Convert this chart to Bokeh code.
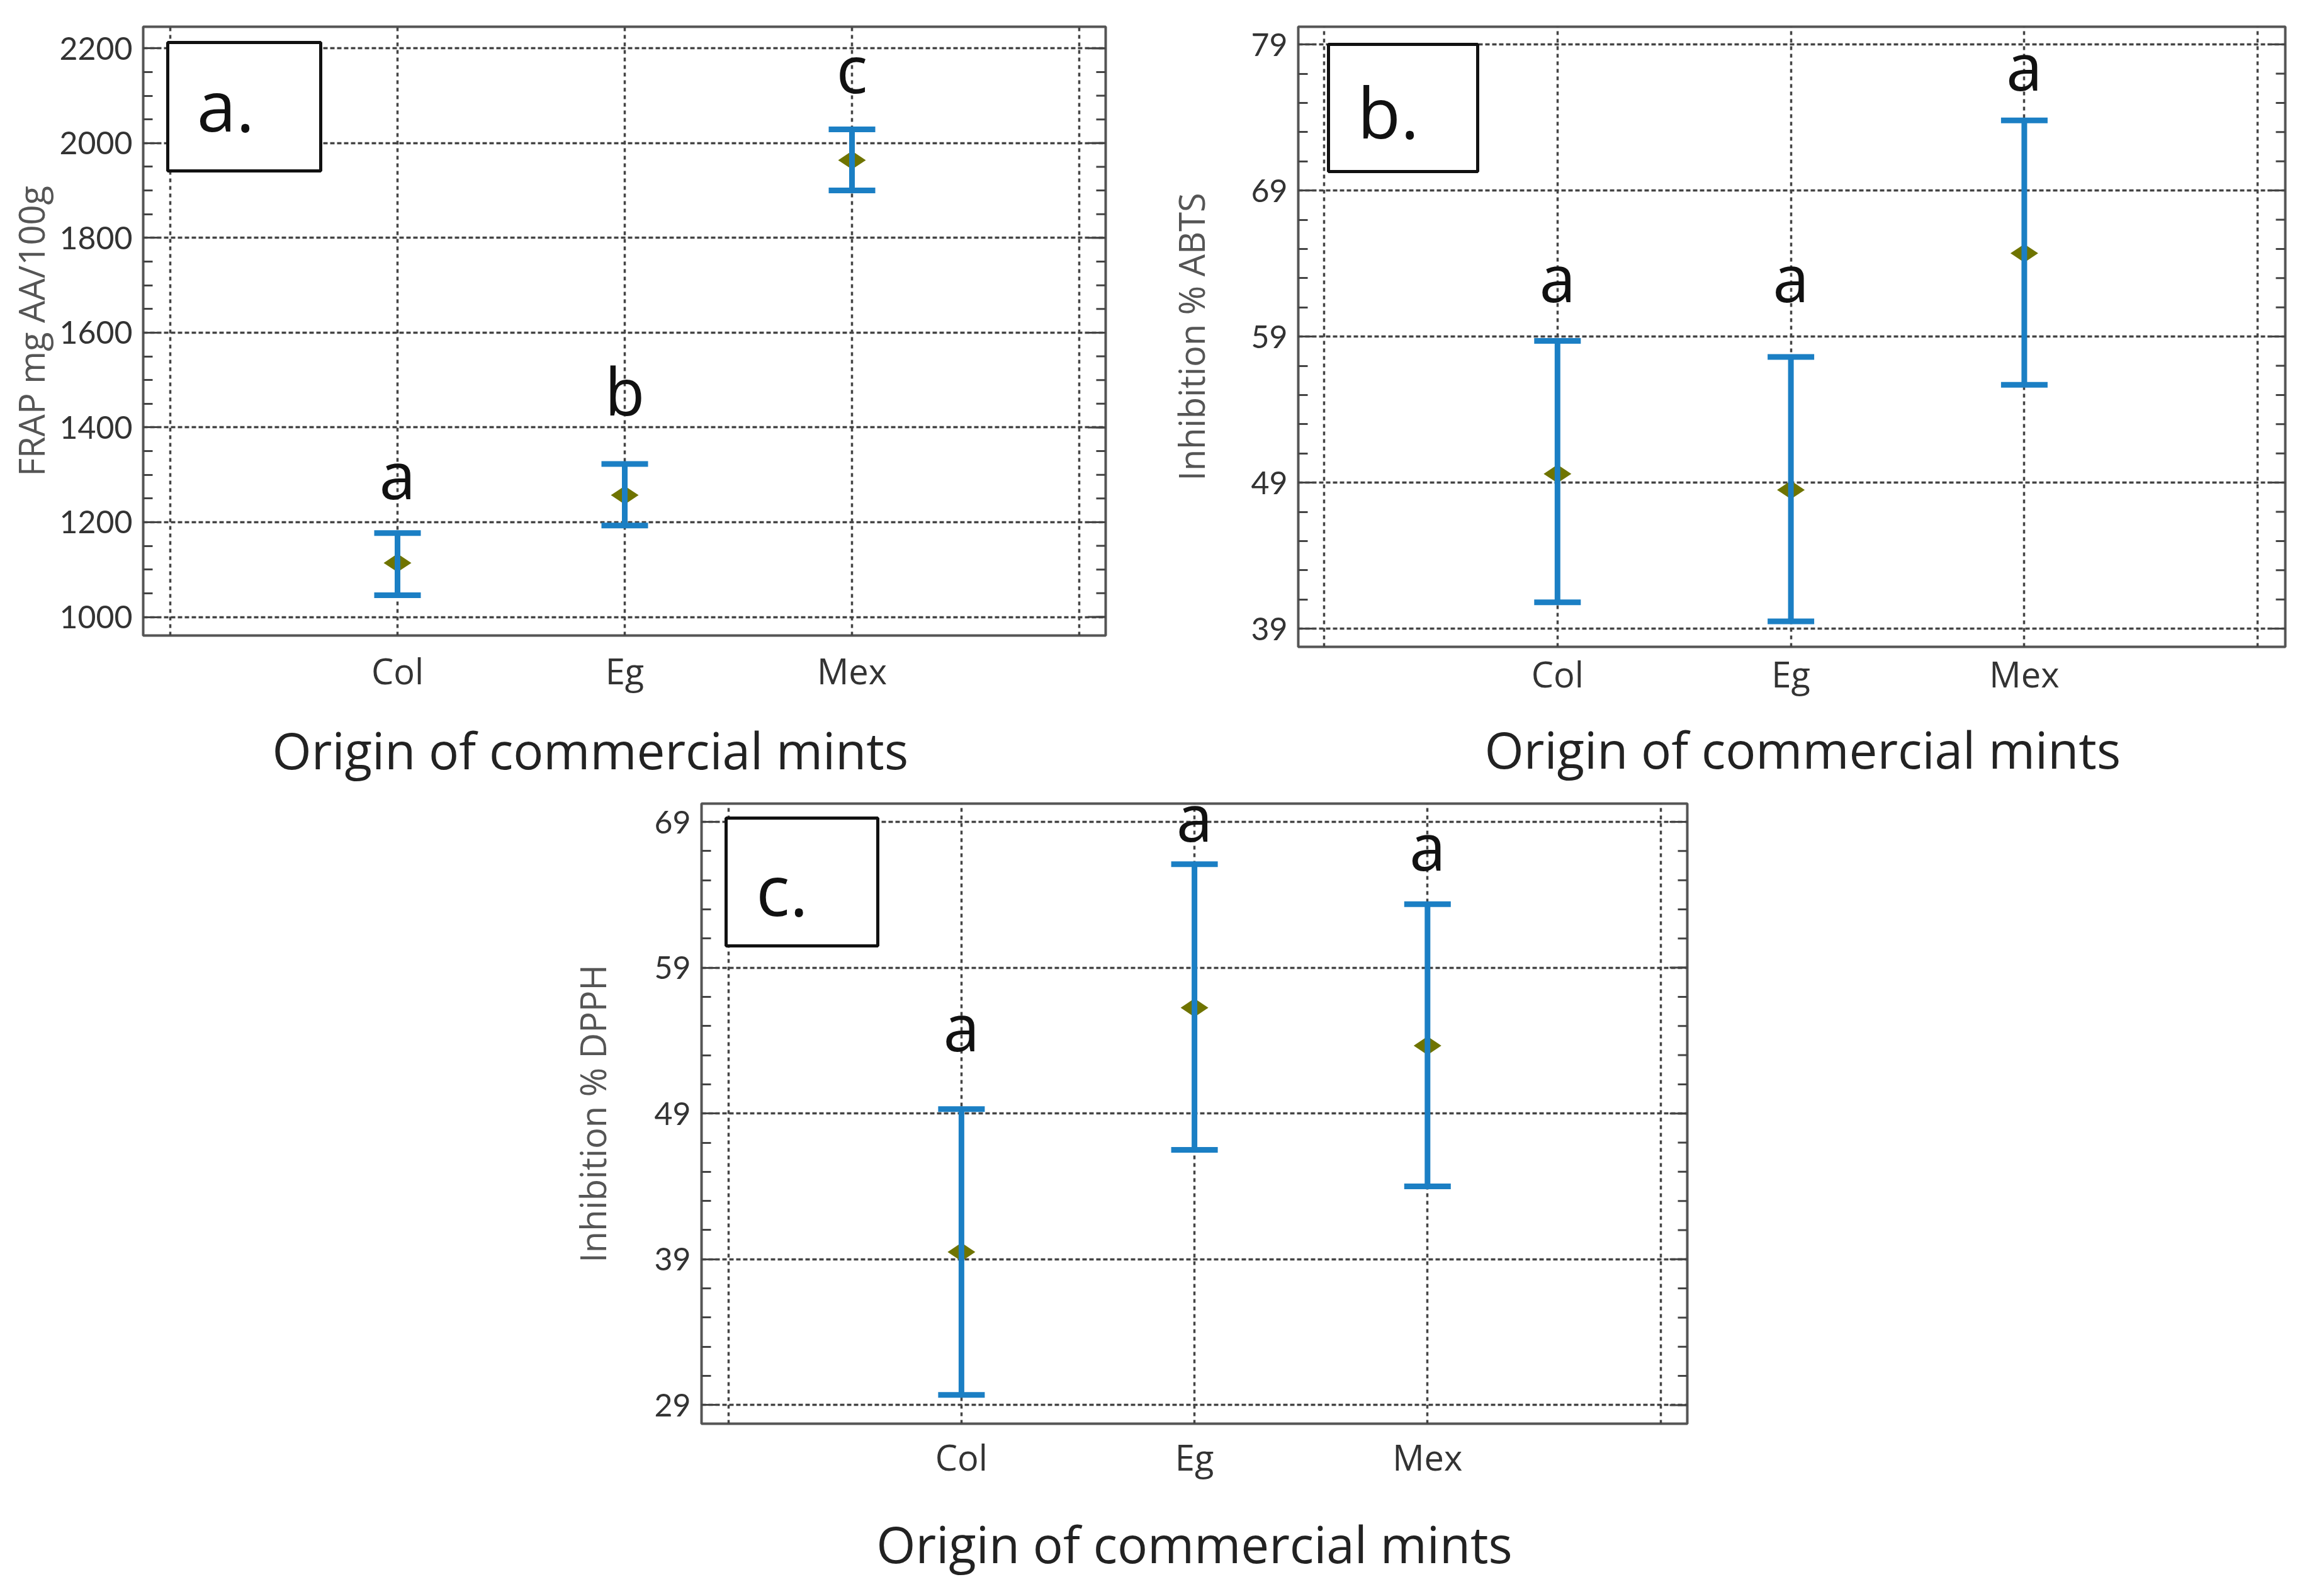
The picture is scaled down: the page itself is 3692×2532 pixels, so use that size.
import math
from bokeh.plotting import figure
from bokeh.models import (Range1d, FixedTicker, Label, BoxAnnotation, Title,
                          Whisker, TeeHead, ColumnDataSource, Spacer)
from bokeh.layouts import row, column
from bokeh.core.properties import value
from bokeh.embed import file_html
from bokeh.resources import INLINE

# ---------------- data ----------------
categories = ["Col", "Eg", "Mex"]
cat_pos = [1, 2, 3]

frap_mean = [1114, 1257, 1964]
frap_lower = [1046, 1193, 1900]
frap_upper = [1177, 1323, 2029]
frap_letters = ["a", "b", "c"]
frap_letter_y = [1302, 1479, 2159]
frap_ticks = [1000, 1200, 1400, 1600, 1800, 2000, 2200]
frap_minor = list(range(950, 2300, 50))

abts_mean = [49.6, 48.5, 64.7]
abts_lower = [40.8, 39.5, 55.7]
abts_upper = [58.7, 57.6, 73.8]
abts_letters = ["a", "a", "a"]
abts_letter_y = [63.1, 63.1, 77.6]
abts_ticks = [39, 49, 59, 69, 79]
abts_minor = list(range(37, 83, 2))

dpph_mean = [39.5, 56.25, 53.65]
dpph_lower = [29.7, 46.5, 44.0]
dpph_upper = [49.3, 66.1, 63.35]
dpph_letters = ["a", "a", "a"]
dpph_letter_y = [55.0, 69.4, 67.4]
dpph_ticks = [29, 39, 49, 59, 69]
dpph_minor = list(range(27, 73, 2))

x_title = "Origin of commercial mints"

BLUE = "#1b7fc4"
OLIVE = "#6f7400"
FONT = "Lato"
TFONT = "Open Sans"
LETTER_FONT = "Open Sans"
GRID = "#444444"
MAJ_LEN = 28
MIN_LEN = 15


def make_panel(spec):
    fx, fy, fwid, fhei = spec["fig"]
    L, R, T, B = spec["frame"]
    x0px, xunit = spec["xcal"]
    (v_lo, py_lo), (v_hi, py_hi) = spec["ycal"]
    fw, fh = R - L, B - T
    xlo = (L - x0px) / xunit
    xhi = (R - x0px) / xunit
    ppu = (py_lo - py_hi) / (v_hi - v_lo)
    ylo = v_lo - (B - py_lo) / ppu
    yhi = v_hi + (py_hi - T) / ppu

    def dx(px):
        return xlo + (px - L) / fw * (xhi - xlo)

    def dy(py):
        return yhi - (py - T) / fh * (yhi - ylo)

    p = figure(frame_width=fw, frame_height=fh,
               x_range=Range1d(xlo, xhi), y_range=Range1d(ylo, yhi),
               min_border_left=L - fx, min_border_right=fx + fwid - R,
               min_border_top=T - fy, min_border_bottom=fy + fhei - B,
               output_backend="svg", toolbar_location=None)
    p.background_fill_color = "white"
    p.border_fill_color = "white"
    p.outline_line_color = "#555555"
    p.outline_line_width = 4

    # grids
    p.xgrid.ticker = FixedTicker(ticks=[0, 1, 2, 3, 4])
    p.xgrid.grid_line_color = GRID
    p.xgrid.grid_line_width = 3.5
    p.xgrid.grid_line_dash = "6 6"
    p.ygrid.ticker = FixedTicker(ticks=spec["ticks"])
    p.ygrid.grid_line_color = GRID
    p.ygrid.grid_line_width = 3.5
    p.ygrid.grid_line_dash = "7 4"

    # x axis
    xa = p.xaxis[0]
    xa.ticker = FixedTicker(ticks=cat_pos)
    xa.major_label_overrides = dict(zip(cat_pos, categories))
    xa.major_tick_in = 0
    xa.major_tick_out = 0
    xa.minor_tick_in = 0
    xa.minor_tick_out = 0
    xa.axis_line_color = None
    xa.major_label_standoff = spec["xstand"]
    xa.major_label_text_font = TFONT
    xa.major_label_text_font_size = "56px"
    xa.major_label_text_color = "#333333"

    if spec["xtitle_mode"] == "title":
        # left-anchored title so it can sit off-centre like the original
        p.add_layout(Title(text=x_title, align="left", offset=spec["xtitle_off"],
                           vertical_align="top", standoff=spec["xtitle_stand"],
                           text_font=TFONT, text_font_style="normal",
                           text_font_size="80px", text_color="#222222"), "below")
    else:
        xa.axis_label = x_title
        xa.axis_label_standoff = spec["xtitle_stand"]
        xa.axis_label_text_font = TFONT
        xa.axis_label_text_font_style = "normal"
        xa.axis_label_text_font_size = "80px"
        xa.axis_label_text_color = "#222222"

    # y axis left
    ya = p.yaxis[0]
    ya.ticker = FixedTicker(ticks=spec["ticks"], minor_ticks=spec["minor"])
    ya.axis_line_color = None
    ya.major_tick_in = MAJ_LEN
    ya.major_tick_out = 0
    ya.minor_tick_in = MIN_LEN
    ya.minor_tick_out = 0
    ya.major_tick_line_color = "#444444"
    ya.major_tick_line_width = 3
    ya.minor_tick_line_color = "#444444"
    ya.minor_tick_line_width = 3
    ya.major_label_standoff = 17
    ya.major_label_text_font = FONT
    ya.major_label_text_font_size = "50px"
    ya.major_label_text_color = "#333333"
    ya.axis_label = spec["ylabel"]
    ya.axis_label_standoff = spec["ytitle_stand"]
    ya.axis_label_text_font = TFONT
    ya.axis_label_text_font_style = "normal"
    ya.axis_label_text_font_size = "56px"
    ya.axis_label_text_color = "#555555"

    # right-side inner ticks (mirroring the left axis ticks)
    maj = [t for t in spec["ticks"] if ylo <= t <= yhi]
    mnr = [t for t in spec["minor"] if ylo <= t <= yhi]
    p.segment(x0=[xhi] * len(maj), x1=[xhi - MAJ_LEN / xunit] * len(maj),
              y0=maj, y1=maj, line_color="#444444", line_width=3)
    p.segment(x0=[xhi] * len(mnr), x1=[xhi - MIN_LEN / xunit] * len(mnr),
              y0=mnr, y1=mnr, line_color="#444444", line_width=3)

    src = ColumnDataSource(dict(x=cat_pos, mean=spec["mean"], lower=spec["lower"],
                                upper=spec["upper"], letter=spec["letters"],
                                ly=spec["letter_y"]))

    p.scatter(x="x", y="mean", source=src, marker="diamond", size=44,
              angle=math.pi / 2, fill_color=OLIVE, line_color=None)

    w = Whisker(base="x", lower="lower", upper="upper", source=src,
                line_color=BLUE, line_width=9, level="annotation",
                upper_head=TeeHead(size=74, line_color=BLUE, line_width=9),
                lower_head=TeeHead(size=74, line_color=BLUE, line_width=9))
    p.add_layout(w)

    p.text(x="x", y="ly", text="letter", source=src, text_align="center",
           text_baseline="alphabetic", text_font=value(LETTER_FONT),
           text_font_size="104px", text_color="#111111")

    # panel tag box
    bl, br, bt, bb = spec["box"]
    p.add_layout(BoxAnnotation(left=dx(bl), right=dx(br), top=dy(bt), bottom=dy(bb),
                               fill_color="white", fill_alpha=1.0,
                               line_color="#111111", line_alpha=1.0, line_width=5))
    tx, tyb = spec["tag_pos"]
    p.add_layout(Label(x=dx(tx), y=dy(tyb), text=spec["tag"], text_align="center",
                       text_baseline="alphabetic", text_font=LETTER_FONT,
                       text_font_size="112px", text_color="#111111"))
    return p


H1 = 1274

spec_a = dict(fig=(8, 8, 1816, H1), frame=(235, 1764, 43, 1010),
              xcal=(278, 361), ycal=((1000, 980.5), (2200, 77.3)),
              ticks=frap_ticks, minor=frap_minor, xstand=17,
              xtitle_mode="title", xtitle_off=205, xtitle_stand=60, ytitle_stand=4,
              mean=frap_mean, lower=frap_lower, upper=frap_upper,
              letters=frap_letters, letter_y=frap_letter_y,
              box=(274, 517, 68, 272), tag="a.", tag_pos=(366, 166),
              ylabel="FRAP mg AA/100g")

spec_b = dict(fig=(1824, 8, 1844, H1), frame=(2070, 3638, 50, 1035),
              xcal=(2111, 370.8), ycal=((39, 1006.1), (79, 78.1)),
              ticks=abts_ticks, minor=abts_minor, xstand=4,
              xtitle_mode="title", xtitle_off=296, xtitle_stand=48, ytitle_stand=54,
              mean=abts_mean, lower=abts_lower, upper=abts_upper,
              letters=abts_letters, letter_y=abts_letter_y,
              box=(2118, 2355, 78, 280), tag="b.", tag_pos=(2213, 184),
              ylabel="Inhibition % ABTS")

spec_c = dict(fig=(880, 8 + H1, 1838, 2524 - 8 - H1), frame=(1122, 2688, 1284, 2269),
              xcal=(1164.7, 370.2), ycal=((29, 2239.4), (69, 1313)),
              ticks=dpph_ticks, minor=dpph_minor, xstand=14,
              xtitle_mode="axis", xtitle_off=0, xtitle_stand=42, ytitle_stand=57,
              mean=dpph_mean, lower=dpph_lower, upper=dpph_upper,
              letters=dpph_letters, letter_y=dpph_letter_y,
              box=(1161, 1402, 1307, 1510), tag="c.", tag_pos=(1250, 1419),
              ylabel="Inhibition % DPPH")

pa = make_panel(spec_a)
pb = make_panel(spec_b)
pc = make_panel(spec_c)

layout = column(row(pa, pb), row(Spacer(width=872, height=10), pc))

open("out.html", "w").write(file_html(layout, INLINE))
